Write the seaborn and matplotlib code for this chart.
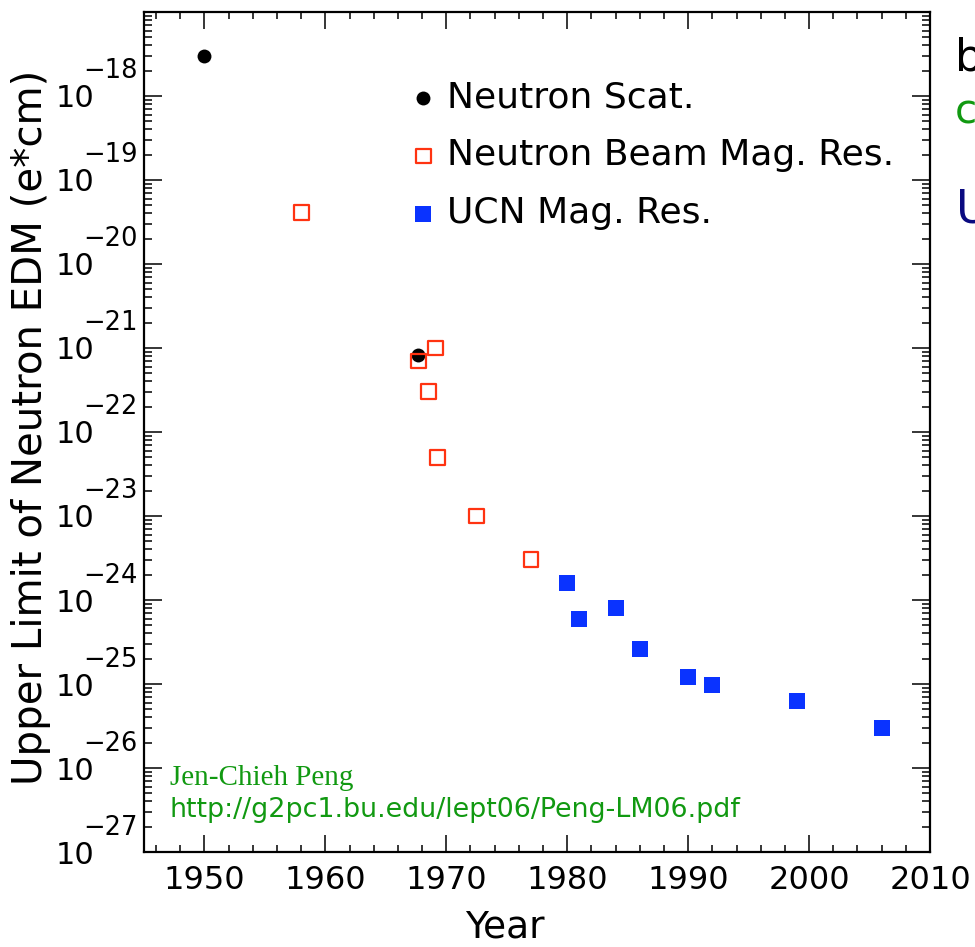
import numpy as np
import pandas as pd
import matplotlib
matplotlib.use("Agg")
import matplotlib.pyplot as plt
import matplotlib.ticker as mticker
import matplotlib.transforms as mtransforms
import seaborn as sns

# ---- data ----
scat_year = [1950.0, 1967.7]
scat_edm = [3.0e-18, 8.3e-22]

beam_year = [1958.0, 1967.7, 1968.5, 1969.1, 1969.3, 1972.5, 1977.0]
beam_edm = [4.1e-20, 7.0e-22, 3.0e-22, 1.0e-21, 5.0e-23, 1.0e-23, 3.0e-24]

ucn_year = [1980, 1981, 1984, 1986, 1990, 1992, 1999, 2006]
ucn_edm = [1.6e-24, 6.0e-25, 8.0e-25, 2.6e-25, 1.2e-25, 9.7e-26, 6.2e-26, 3.0e-26]

series_labels = ["Neutron Scat.", "Neutron Beam Mag. Res.", "UCN Mag. Res."]
x_ticks = [1950, 1960, 1970, 1980, 1990, 2000, 2010]
y_exponents = [-27, -26, -25, -24, -23, -22, -21, -20, -19, -18]

sns.set_theme(style="white")
plt.rcParams["font.family"] = ["DejaVu Sans"]
for k in ["text.color", "axes.labelcolor", "xtick.color", "ytick.color", "axes.edgecolor"]:
    plt.rcParams[k] = "black"

fig = plt.figure(figsize=(9.75, 9.47), dpi=100)
ax = fig.add_axes([144 / 975, 1 - 852 / 947, 786 / 975, 840 / 947])

df_s = pd.DataFrame({"year": scat_year, "edm": scat_edm})
df_b = pd.DataFrame({"year": beam_year, "edm": beam_edm})
df_u = pd.DataFrame({"year": ucn_year, "edm": ucn_edm})

sns.scatterplot(data=df_s, x="year", y="edm", ax=ax, marker="o", s=100,
                color="black", edgecolor="black", linewidth=0,
                label=series_labels[0], zorder=3)
sns.scatterplot(data=df_b, x="year", y="edm", ax=ax, marker="s", s=115,
                color="#ff3311", facecolor="none", edgecolor="#ff3311",
                linewidth=1.6, label=series_labels[1], zorder=4)
sns.scatterplot(data=df_u, x="year", y="edm", ax=ax, marker="s", s=130,
                color="#0a33ff", edgecolor="#0a33ff", linewidth=0,
                label=series_labels[2], zorder=3)

ax.set_yscale("log")
ax.set_xlim(1945, 2010)
ax.set_ylim(1e-27, 1e-17)

ax.set_xticks(x_ticks)
ax.set_xticklabels([str(v) for v in x_ticks])
ax.xaxis.set_minor_locator(mticker.MultipleLocator(2))

major_y = [10.0 ** e for e in y_exponents]
ax.yaxis.set_major_locator(mticker.FixedLocator(major_y))
ax.yaxis.set_major_formatter(mticker.FixedFormatter(["10"] * len(y_exponents)))
minor_y = [m * 10.0 ** e for e in range(-27, -17) for m in range(2, 10)]
ax.yaxis.set_minor_locator(mticker.FixedLocator(minor_y))
ax.yaxis.set_minor_formatter(mticker.NullFormatter())

ax.tick_params(axis="both", which="both", direction="in", top=True, right=True,
               left=True, bottom=True, colors="black", width=1.1)
ax.tick_params(axis="x", which="major", length=12, labelsize=23, pad=9)
ax.tick_params(axis="x", which="minor", length=5)
ax.tick_params(axis="y", which="major", length=13, labelsize=22, pad=36)
ax.tick_params(axis="y", which="minor", length=6)

# raised exponents of the y tick labels (ROOT style)
exp_tr = mtransforms.blended_transform_factory(ax.transAxes, ax.transData) + \
    mtransforms.ScaledTranslation(0, 24.5 / 100, fig.dpi_scale_trans)
for e, yv in zip(y_exponents, major_y):
    ax.text(-6 / 786, yv, "\u2212%d" % abs(e), transform=exp_tr, ha="right",
            va="center", fontsize=18.5, color="black", clip_on=False)

for sp in ax.spines.values():
    sp.set_color("black")
    sp.set_linewidth(1.6)

ax.set_xlabel("Year", fontsize=27)
ax.set_ylabel("Upper Limit of Neutron EDM (e*cm)", fontsize=29)
ax.xaxis.set_label_coords((505 - 144) / 786, -0.069)
ax.yaxis.set_label_coords(-0.118, 0.505)

leg = ax.legend(loc="upper left", bbox_to_anchor=(0.3137, 0.9355), frameon=False,
                fontsize=26, handletextpad=0.17, handlelength=1.0,
                labelspacing=0.66, markerscale=1.0, borderaxespad=0)

ax.text(0.033, 0.0881, "Jen-Chieh Peng", transform=ax.transAxes, color="#119911",
        fontsize=21, family=["Liberation Serif"], va="center", ha="left")
ax.text(0.033, 0.0500, "http://g2pc1.bu.edu/lept06/Peng-LM06.pdf", transform=ax.transAxes,
        color="#119911", fontsize=19.4, va="center", ha="left")

fig.text(955 / 975, 1 - 58 / 947, "b", color="black", fontsize=32, va="center", ha="left")
fig.text(955 / 975, 1 - 113 / 947, "c", color="#119911", fontsize=29, va="center", ha="left")
fig.text(956 / 975, 1 - 210 / 947, "U", color="#0a0a80", fontsize=33, va="center", ha="left")

fig.savefig("out.png", dpi=100)
